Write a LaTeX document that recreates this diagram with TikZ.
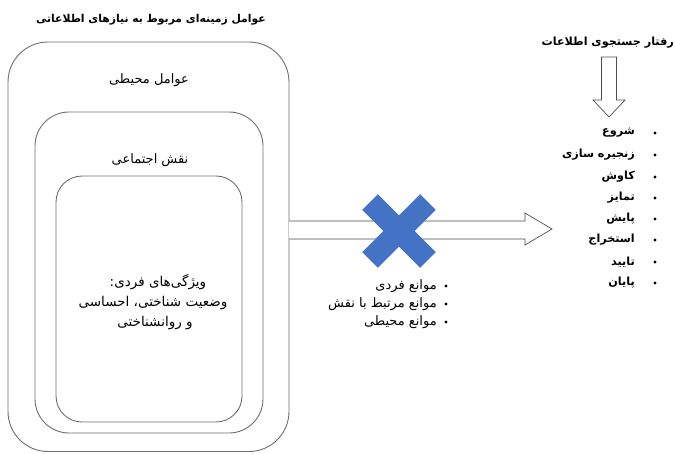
\documentclass[tikz,border=0pt]{standalone}
\usepackage{fontspec}
\TeXXeTstate=1
\newfontfamily\fa[Script=Arabic]{DejaVu Sans}
\newcommand{\rtl}[1]{\beginR #1\endR}
\definecolor{boxline}{RGB}{110,110,110}
\definecolor{xblue}{RGB}{68,114,196}
\tikzset{
  rbox/.style={draw=boxline, line width=0.9pt},
  lbl/.style={font=\fa\fontsize{13}{15}\selectfont, inner sep=0pt},
  blbl/.style={font=\fa\bfseries\fontsize{11.2}{13}\selectfont, inner sep=0pt},
  bigarrow/.style={draw=black!70, line width=0.7pt, fill=white},
  bul/.style={circle, fill=black, inner sep=0pt, minimum size=3.2pt},
}
\begin{document}
\begin{tikzpicture}[x=1pt,y=-1pt]
\useasboundingbox (0,0) rectangle (675,453);
% nested rounded boxes
\draw[rbox, rounded corners=40pt] (8,42) rectangle (289,451.5);
\draw[rbox, rounded corners=34pt] (35,112) rectangle (263,433);
\draw[rbox, rounded corners=26pt] (56,176) rectangle (242,422);
% titles and labels
\node[blbl, font=\fa\bfseries\fontsize{10.8}{13}\selectfont] (title) at (151,20) {\rtl{عوامل زمینه‌ای مربوط به نیازهای اطلاعاتی}};
\node[lbl] (env) at (149,80) {\rtl{عوامل محیطی}};
\node[lbl] (role) at (150,160) {\rtl{نقش اجتماعی}};
\node[lbl, font=\fa\fontsize{13.5}{15}\selectfont] (ind1) at (158,282) {\rtl{ویژگی‌های فردی:}};
\node[lbl, font=\fa\fontsize{13.5}{15}\selectfont] (ind2) at (153,303) {\rtl{وضعیت شناختی، احساسی}};
\node[lbl, font=\fa\fontsize{13.5}{15}\selectfont] (ind3) at (155,323) {\rtl{و روانشناختی}};
% big right arrow
\draw[bigarrow] (289,221) -- (525,221) -- (525,213) -- (552,229) -- (525,245) -- (525,239) -- (289,239);
% blue X
\begin{scope}[shift={(399,231)}]
  \fill[xblue, rotate=45] (-41,-11) rectangle (41,11);
  \fill[xblue, rotate=-45] (-41,-11) rectangle (41,11);
\end{scope}
% barriers list
\foreach \i/\t/\y in {1/{موانع فردی}/286, 2/{موانع مرتبط با نقش}/304, 3/{موانع محیطی}/322}{
  \node[lbl, anchor=east] (bar\i) at (437,\y) {\rtl{\t}};
  \node[bul] (barb\i) at (446,\y) {};
}
% information seeking behaviour
\node[blbl, anchor=east] (isb) at (674,43) {\rtl{رفتار جستجوی اطلاعات}};
\draw[bigarrow] (601.5,57) -- (616.5,57) -- (616.5,100) -- (625,100) -- (609,117) -- (593,100) -- (601.5,100) -- cycle;
\foreach \i/\t/\y in {1/{شروع}/133, 2/{زنجیره سازی}/155, 3/{کاوش}/177, 4/{تمایز}/198, 5/{پایش}/219, 6/{استخراج}/240, 7/{تایید}/262, 8/{پایان}/283}{
  \node[blbl, anchor=east] (st\i) at (635,\y) {\rtl{\t}};
  \node[bul] (stb\i) at (655,\y) {};
}
\end{tikzpicture}
\end{document}
